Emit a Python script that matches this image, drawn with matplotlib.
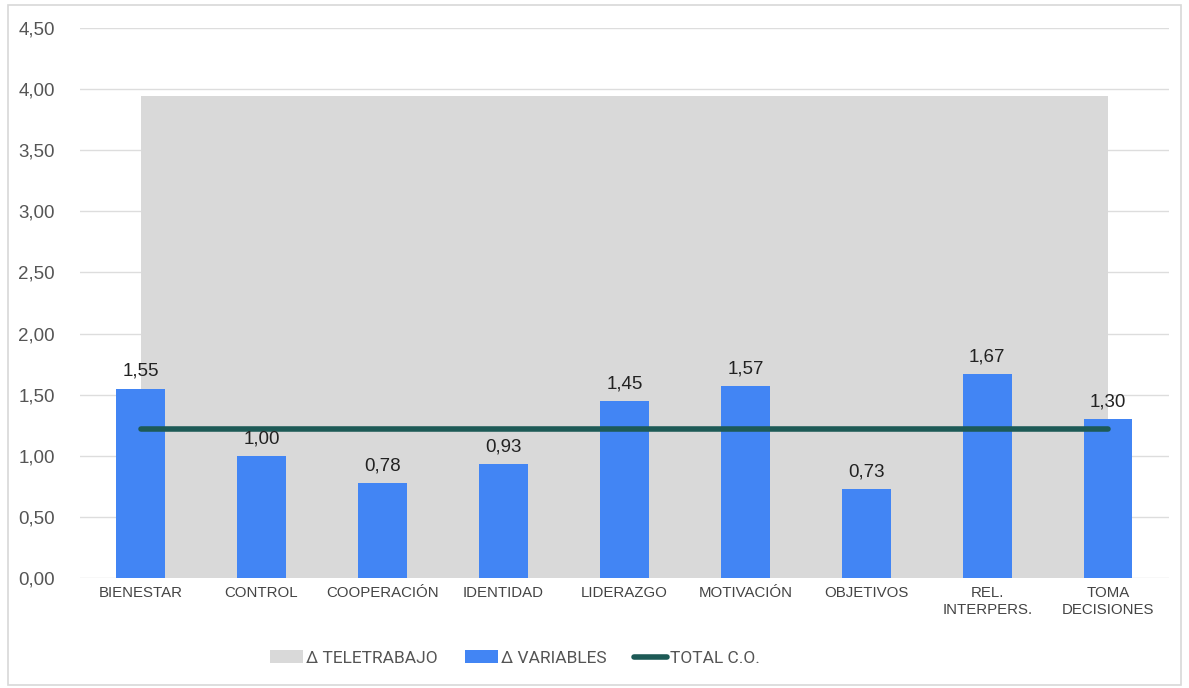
import matplotlib.pyplot as plt
from matplotlib.patches import Rectangle

# datos
categorias = ["BIENESTAR", "CONTROL", "COOPERACIÓN", "IDENTIDAD", "LIDERAZGO",
              "MOTIVACIÓN", "OBJETIVOS", "REL.\nINTERPERS.", "TOMA\nDECISIONES"]
delta_variables = [1.55, 1.00, 0.78, 0.93, 1.45, 1.57, 0.73, 1.67, 1.30]
delta_teletrabajo = [3.94] * 9
total_co = [1.22] * 9
ticks_y = [0.0, 0.5, 1.0, 1.5, 2.0, 2.5, 3.0, 3.5, 4.0, 4.5]

plt.rcParams['font.family'] = ['Roboto', 'DejaVu Sans']
arial = ["Liberation Sans", "DejaVu Sans"]

fig = plt.figure(figsize=(11.89, 6.88), dpi=100)
ax = fig.add_axes([0.0673, 0.1599, 0.9157, 0.7994])

x = list(range(len(categorias)))

h_tele = ax.fill_between(x, 0, delta_teletrabajo, color="#d9d9d9", lw=0,
                         zorder=1, label="Δ TELETRABAJO")
h_var = ax.bar(x, delta_variables, width=0.4, color="#4285f4", zorder=2,
               label="Δ VARIABLES")
h_tot, = ax.plot(x, total_co, color="#1d5a56", lw=4, solid_capstyle="round",
                 zorder=3, label="TOTAL C.O.")

for xi, v in zip(x, delta_variables):
    ax.text(xi, v + 0.07, f"{v:.2f}".replace(".", ","), ha="center",
            va="bottom", fontsize=13.5, color="#222222", zorder=4, family=arial)

ax.set_xlim(-0.5, 8.5)
ax.set_ylim(0, 4.5)
ax.set_yticks(ticks_y)
ax.set_yticklabels([f"{t:.2f}".replace(".", ",") for t in ticks_y],
                   fontsize=13.5, color="#555555", family=arial)
ax.set_xticks(x)
ax.set_xticklabels(categorias, fontsize=10.8, color="#444444", family=arial,
                   linespacing=1.2)
ax.tick_params(axis="both", length=0)
ax.tick_params(axis="y", pad=18)
ax.tick_params(axis="x", pad=6)
ax.grid(axis="y", color="#dddddd", lw=1, zorder=0)
ax.set_axisbelow(True)
for s in ax.spines.values():
    s.set_visible(False)

fig.legend([h_tele, h_var, h_tot], ["Δ TELETRABAJO", "Δ VARIABLES", "TOTAL C.O."],
           loc="center", bbox_to_anchor=(0.433, 0.0436), ncol=3, frameon=False,
           fontsize=12.5, handlelength=1.9, handleheight=0.8, handletextpad=0.15,
           columnspacing=1.6, labelcolor="#555555")

fig.add_artist(Rectangle((8 / 1189, 3 / 688), 1173 / 1189, 680 / 688,
                         transform=fig.transFigure, fill=False,
                         edgecolor="#d8d8d8", lw=1.2))

fig.savefig("out.png", dpi=100)
